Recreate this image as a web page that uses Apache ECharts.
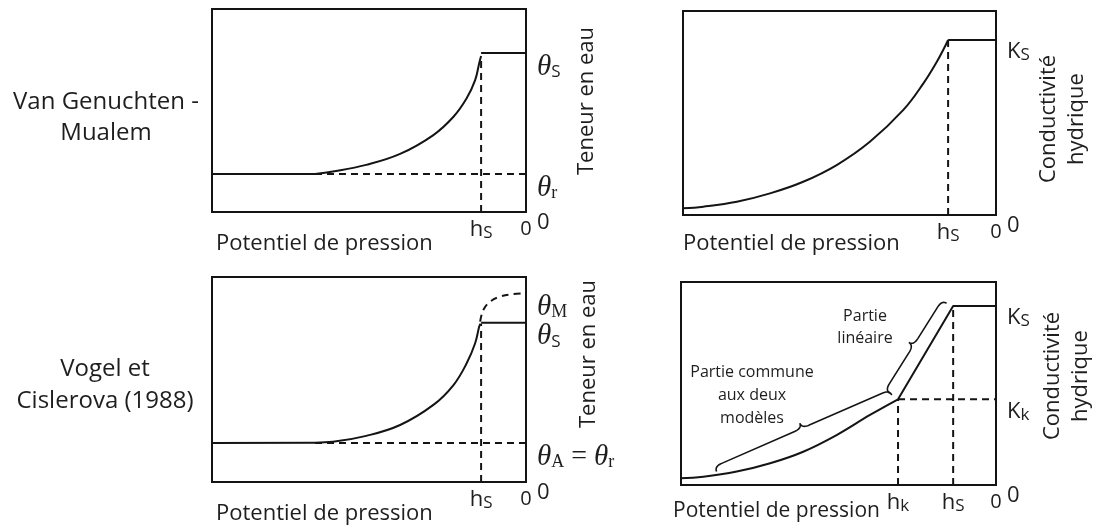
<!DOCTYPE html>
<html>
<head>
<meta charset="utf-8">
<script src="https://cdn.jsdelivr.net/npm/echarts@6/dist/echarts.min.js"></script>
<style>
  html, body { margin: 0; padding: 0; background: #fff; }
  #main { width: 1099px; height: 528px; }
</style>
</head>
<body>
<div id="main"></div>
<script>
// axes: pressure potential from -100 (left) to 0 (right), water content / conductivity 0..100

// Van Genuchten - Mualem, teneur en eau
const vgThetaX = [-100, -67.2, -61.5, -50.9, -40.1, -29.5, -23.1, -18.9, -16.2, -14.9, -14.3];
const vgThetaY = [18.7, 18.7, 19.9, 23.2, 28.6, 37.9, 46.9, 56.0, 65.0, 73.3, 76.8];
const vgThetaS = 78.3;
const vgThetaR = 18.7;
const vgHs = -14.3;

// Van Genuchten - Mualem, conductivité hydrique
const vgKX = [-100, -93.5, -82.8, -72.2, -61.6, -50.9, -40.3, -29.6, -23.2, -18.9, -16.6, -15.3];
const vgKY = [3.3, 4.1, 6.5, 10.6, 16.3, 24.5, 35.9, 51.5, 64.5, 75.1, 81.7, 85.8];
const vgKs = 85.8;
const vgKHs = -15.3;

// Vogel et Cislerova, teneur en eau
const vcThetaX = [-100, -67.2, -61.5, -50.9, -40.1, -29.5, -23.1, -18.9, -16.2, -14.9, -14.5];
const vcThetaY = [19.0, 19.2, 19.6, 22.5, 27.8, 37.6, 47.3, 57.9, 67.7, 75.8, 77.2];
const vcThetaMX = [-14.6, -13.6, -11.5, -8.3, -4.0, 0];
const vcThetaMY = [78.2, 83.9, 87.9, 90.4, 91.7, 92.0];
const vcThetaS = 77.7;
const vcThetaA = 19.0;
const vcThetaM = 92.0;
const vcHs = -14.3;

// Vogel et Cislerova, conductivité hydrique
const vcKX = [-101, -92.9, -82.3, -71.7, -61.2, -50.6, -40.0, -31.1, -13.6, 0];
const vcKY = [3.3, 4.1, 6.6, 10.7, 16.4, 24.6, 34.5, 42.2, 88.2, 88.2];
const vcKs = 88.2;
const vcKk = 42.2;
const vcHk = -31.1;
const vcKHs = -13.6;
// accolades: [x1, y1, x2, y2]
const braces = [[-88.7, 6.6, -33.1, 44.3], [-33.7, 45.2, -15.7, 89.5]];

const INK = '#141414';
const TXT = '#1e1e1e';
const SANS = "'Open Sans', sans-serif";
const SERIF = "'Liberation Serif', serif";

const zip = (xs, ys) => xs.map((x, i) => [x, ys[i]]);

const rich = {
  t: { fontFamily: SERIF, fontStyle: 'italic', fontSize: 29, lineHeight: 28, color: TXT },
  sr: { fontFamily: SERIF, fontSize: 18, lineHeight: 18, verticalAlign: 'bottom', color: TXT },
  eq: { fontFamily: SERIF, fontSize: 28, lineHeight: 28, color: TXT },
  s: { fontFamily: SANS, fontSize: 17, lineHeight: 17, verticalAlign: 'bottom', color: TXT },
  k: { fontFamily: SANS, fontSize: 22, lineHeight: 24, color: TXT },
  z: { fontFamily: SANS, fontSize: 22, lineHeight: 22, color: TXT },
  zx: { fontFamily: SANS, fontSize: 20, lineHeight: 22, color: TXT }
};

function ticks(pairs) {
  return {
    customValues: pairs.map(p => p[0]),
    formatter: v => {
      const f = pairs.find(p => Math.abs(p[0] - v) < 1e-6);
      return f ? f[1] : '';
    }
  };
}

const grids = [
  { left: 212, top: 9, width: 314, height: 203 },
  { left: 683, top: 11, width: 313, height: 204 },
  { left: 212, top: 277, width: 314, height: 205 },
  { left: 681, top: 282, width: 315, height: 203 }
].map(g => Object.assign(g, { show: true, borderColor: INK, borderWidth: 2, containLabel: false }));

const xLabels = [
  [[vgHs, '{k|h}{s|S}'], [0, '{zx|0}']],
  [[vgKHs, '{k|h}{s|S}'], [0, '{zx|0}']],
  [[vcHs, '{k|h}{s|S}'], [0, '{zx|0}']],
  [[vcHk, '{k|h}{s|k}'], [vcKHs, '{k|h}{s|S}'], [0, '{zx|0}']]
];
const yLabels = [
  [[0, '{z|0}'], [vgThetaR, '{t|θ}{sr|r}'], [vgThetaS, '{t|θ}{s|S}']],
  [[0, '{z|0}'], [vgKs, '{k|K}{s|S}']],
  [[0, '{z|0}'], [vcThetaA, '{t|θ}{sr|A}{eq| = }{t|θ}{sr|r}'], [vcThetaS, '{t|θ}{s|S}'], [vcThetaM, '{t|θ}{sr|M}']],
  [[0, '{z|0}'], [vcKk, '{k|K}{s|k}'], [vcKs, '{k|K}{s|S}']]
];
const nameGaps = [-4, 0, -4, 8];
const namePads = [21, 18, 21, 16];
const nameSizes = [22, 22, 22, 21];

const xAxis = grids.map((g, i) => ({
  type: 'value', gridIndex: i, min: -100, max: 0,
  axisLine: { show: false }, axisTick: { show: false }, splitLine: { show: false },
  axisLabel: Object.assign({ margin: 6, rich: rich }, ticks(xLabels[i])),
  name: 'Potentiel de pression', nameLocation: 'start', nameGap: nameGaps[i], nameMoveOverlap: false,
  nameTextStyle: { fontFamily: SANS, fontSize: nameSizes[i], color: TXT, align: 'left', verticalAlign: 'top', padding: [namePads[i], 0, 0, 0] }
}));
const yAxis = grids.map((g, i) => ({
  type: 'value', gridIndex: i, min: 0, max: 100, position: 'right',
  axisLine: { show: false }, axisTick: { show: false }, splitLine: { show: false },
  axisLabel: Object.assign({ margin: 11, verticalAlign: 'top', align: 'left', rich: rich }, ticks(yLabels[i]))
}));

function line(idx, data, dashed, smooth) {
  return {
    type: 'line', xAxisIndex: idx, yAxisIndex: idx, data: data,
    showSymbol: false, silent: true, clip: false,
    smooth: smooth ? 0.4 : false,
    lineStyle: { color: INK, width: 2, type: dashed ? [7, 5] : 'solid' }
  };
}

function bracePoints(p1, p2, amp, k) {
  const dx = p2[0] - p1[0], dy = p2[1] - p1[1], L = Math.hypot(dx, dy);
  const tx = dx / L, ty = dy / L, nx = ty, ny = -tx;
  const h = amp / 2;
  const pts = [[0, 0]];
  const quad = (a, c, b) => {
    for (let i = 1; i <= 10; i++) {
      const s = i / 10, m = 1 - s;
      pts.push([m * m * a[0] + 2 * m * s * c[0] + s * s * b[0], m * m * a[1] + 2 * m * s * c[1] + s * s * b[1]]);
    }
  };
  quad([0, 0], [0, h], [k, h]);
  pts.push([L / 2 - k, h]);
  quad([L / 2 - k, h], [L / 2, h], [L / 2, amp]);
  quad([L / 2, amp], [L / 2, h], [L / 2 + k, h]);
  pts.push([L - k, h]);
  quad([L - k, h], [L, h], [L, 0]);
  return pts.map(([u, v]) => [p1[0] + tx * u + nx * v, p1[1] + ty * u + ny * v]);
}

const series = [
  // Van Genuchten - Mualem, teneur en eau
  line(0, zip(vgThetaX.slice(0, 2), vgThetaY.slice(0, 2))),
  line(0, zip(vgThetaX.slice(1), vgThetaY.slice(1)), false, true),
  line(0, [[vgHs, vgThetaS], [0, vgThetaS]]),
  line(0, [[vgThetaX[1], vgThetaR], [0, vgThetaR]], true),
  line(0, [[vgHs, 0], [vgHs, vgThetaY[vgThetaY.length - 1]]], true),
  // Van Genuchten - Mualem, conductivité
  line(1, zip(vgKX, vgKY), false, true),
  line(1, [[vgKHs, vgKs], [0, vgKs]]),
  line(1, [[vgKHs, 0], [vgKHs, vgKs]], true),
  // Vogel et Cislerova, teneur en eau
  line(2, zip(vcThetaX.slice(0, 2), vcThetaY.slice(0, 2))),
  line(2, zip(vcThetaX.slice(1), vcThetaY.slice(1)), false, true),
  line(2, zip(vcThetaMX, vcThetaMY), true, true),
  line(2, [[vcHs, vcThetaS], [0, vcThetaS]]),
  line(2, [[vcThetaX[1], vcThetaA], [0, vcThetaA]], true),
  line(2, [[vcHs, 0], [vcHs, vcThetaY[vcThetaY.length - 1]]], true),
  // Vogel et Cislerova, conductivité
  line(3, zip(vcKX.slice(0, 8), vcKY.slice(0, 8)), false, true),
  line(3, zip(vcKX.slice(7), vcKY.slice(7))),
  line(3, [[vcHk, 0], [vcHk, vcKk]], true),
  line(3, [[vcHk, vcKk], [0, vcKk]], true),
  line(3, [[vcKHs, 0], [vcKHs, vcKs]], true),
  {
    type: 'custom', xAxisIndex: 3, yAxisIndex: 3, silent: true,
    encode: { x: [0, 2], y: [1, 3] },
    data: braces,
    renderItem: (params, api) => ({
      type: 'polyline',
      shape: { points: bracePoints(api.coord([api.value(0), api.value(1)]), api.coord([api.value(2), api.value(3)]), 11, 8) },
      style: { stroke: INK, lineWidth: 1.6, fill: null }
    })
  }
];

const txt = (id, x, y, text, size, lh, rot) => ({
  type: 'text', id: id, x: x, y: y, rotation: rot || 0, silent: true,
  style: { text: text, fontFamily: SANS, fontSize: size, lineHeight: lh, fill: TXT, align: 'center', verticalAlign: 'middle' }
});

const graphic = [
  txt('m1', 106, 118, 'Van Genuchten -\nMualem', 24, 31),
  txt('m2', 105, 385, 'Vogel et\nCislerova (1988)', 24, 32),
  txt('n1', 587, 101, 'Teneur en eau', 22, 24, Math.PI / 2),
  txt('n2', 589, 354, 'Teneur en eau', 22, 24, Math.PI / 2),
  txt('n3', 1063, 119, 'Conductivité\nhydrique', 22, 28, Math.PI / 2),
  txt('n4', 1067, 376, 'Conductivité\nhydrique', 22, 28, Math.PI / 2),
  txt('b1', 752, 395, 'Partie commune\naux deux\nmodèles', 16, 23),
  txt('b2', 865, 327, 'Partie\nlinéaire', 16, 22)
];

const chart = echarts.init(document.getElementById('main'), null, { renderer: 'canvas' });
chart.setOption({
  animation: false,
  backgroundColor: '#ffffff',
  grid: grids,
  xAxis: xAxis,
  yAxis: yAxis,
  series: series,
  graphic: graphic
});
</script>
</body>
</html>
